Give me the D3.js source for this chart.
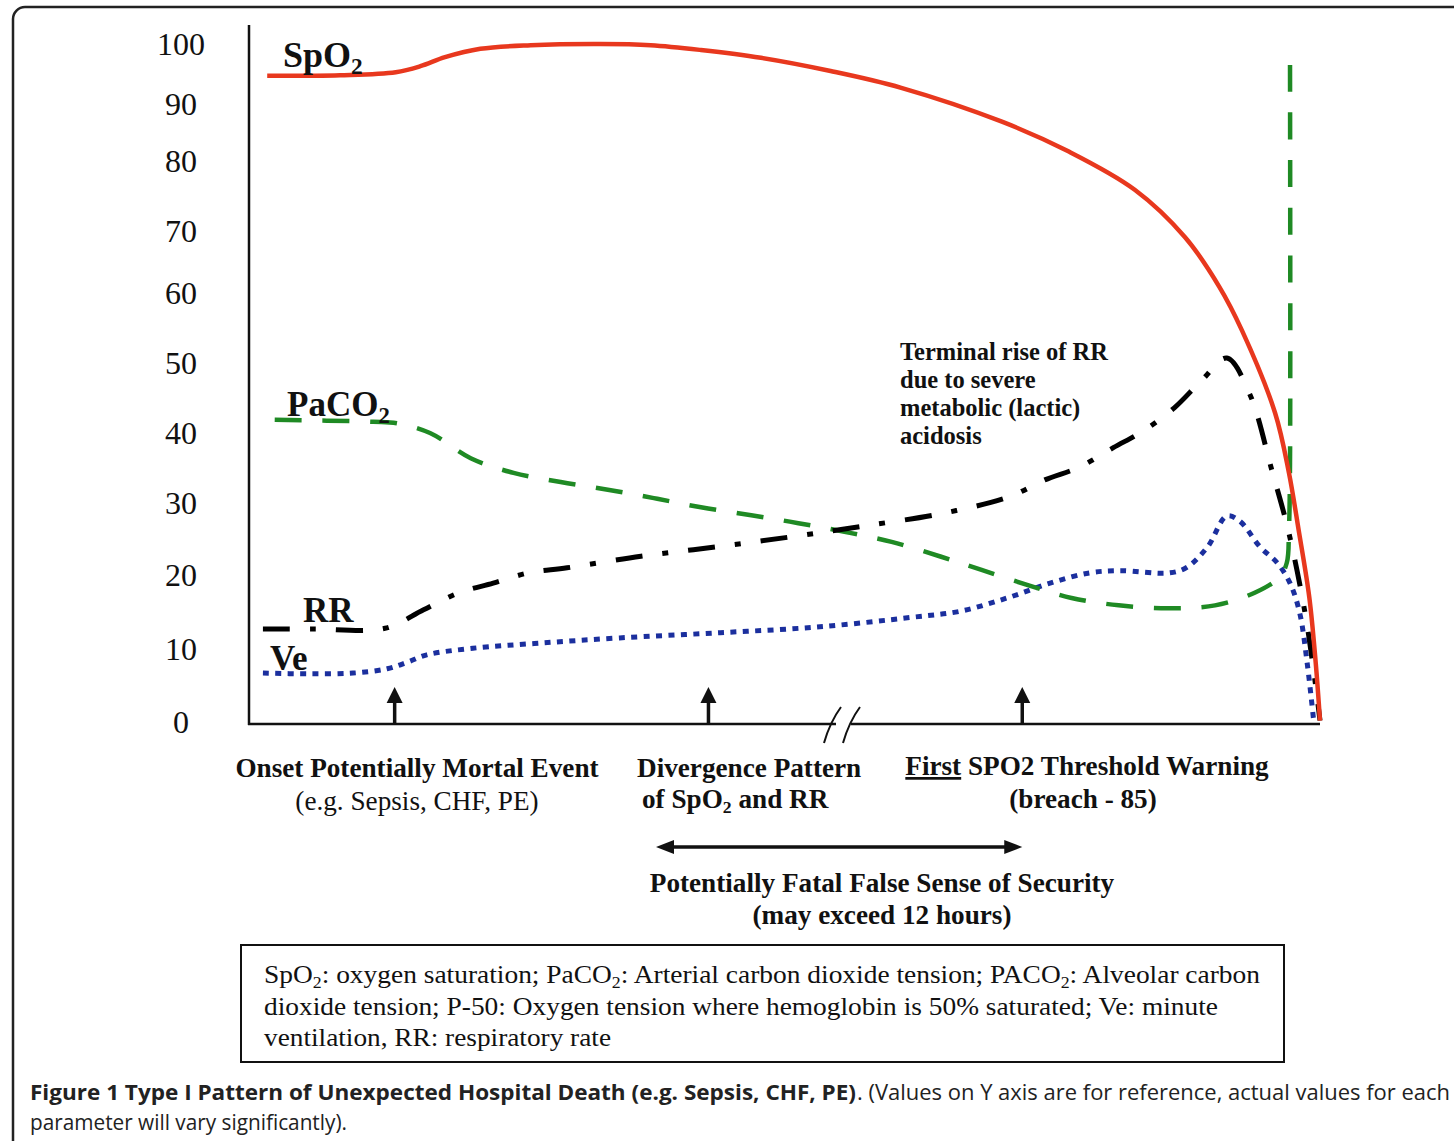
<!DOCTYPE html>
<html><head><meta charset="utf-8">
<script src="https://cdn.jsdelivr.net/npm/d3@7"></script>
<style>html,body{margin:0;padding:0;background:#fff;overflow:hidden}</style>
</head><body>
<svg id="c" width="1454" height="1141"></svg>
<script>
// ---------- data ----------
const yTicks = [0, 10, 20, 30, 40, 50, 60, 70, 80, 90, 100];

const spo2T = [1.7, 8.5, 13.7, 16.0, 18.3, 21.6, 26.3, 32.8, 37.5, 42.2, 47.8, 54.3, 60.9, 70.3, 76.5, 82.7, 87.4, 90.6, 92.7, 95.8, 97.1, 98.0, 99.0, 99.6, 100];
const spo2V = [94.7, 94.8, 95.3, 96.3, 97.8, 99.2, 99.8, 100, 99.8, 99.0, 97.7, 95.5, 92.7, 86.9, 81.7, 75.9, 69.0, 61.0, 54.7, 42.9, 34.3, 26.3, 17.0, 8.1, 0.2];

const paco2T = [2.4, 11.6, 13.8, 16.9, 20.7, 24.7, 29.1, 33.5, 37.8, 42.2, 46.9, 51.3, 55.6, 60.0, 64.7, 68.4, 72.8, 76.8, 81.2, 85.9, 90.2, 93.9, 96.2, 96.9, 97.1, 97.2, 97.2];
const paco2V = [41.9, 41.6, 41.4, 40.0, 36.4, 34.3, 33.0, 31.9, 30.7, 29.4, 28.3, 27.2, 26.0, 24.6, 22.5, 20.7, 18.6, 16.9, 15.9, 15.5, 15.9, 17.6, 19.7, 21.7, 26.3, 35.7, 96.5];

const rrT = [1.3, 6.0, 12.7, 16.3, 19.6, 22.8, 26.1, 29.7, 36.6, 43.6, 50.6, 57.4, 64.9, 71.0, 74.3, 77.5, 80.7, 83.6, 86.4, 89.0, 91.3, 93.4, 95.5, 97.1, 98.6, 99.4, 100];
const rrV = [12.7, 12.7, 12.8, 15.3, 17.6, 18.9, 20.3, 21.0, 22.6, 23.9, 25.3, 26.8, 28.6, 30.9, 33.3, 35.1, 37.9, 40.4, 43.6, 47.6, 50.7, 45.7, 34.7, 25.8, 14.9, 7.1, 0.2];

const veT = [1.3, 5.4, 9.7, 12.9, 14.8, 16.6, 20.9, 27.2, 34.6, 44.0, 53.3, 62.0, 66.4, 70.8, 74.8, 78.5, 81.3, 86.0, 87.6, 89.5, 91.3, 92.5, 94.4, 96.0, 97.2, 98.1, 98.8, 99.4];
const veV = [6.7, 6.6, 6.7, 7.3, 8.2, 9.2, 10.1, 10.8, 11.5, 12.2, 13.0, 14.3, 15.1, 16.9, 18.9, 20.3, 20.6, 20.3, 21.1, 23.9, 28.2, 27.5, 23.9, 21.7, 18.9, 14.9, 8.1, 0.3];

const eventT = [13.6, 42.9, 72.2];          // upward arrows on the time axis
const falseSecurityT = [38.0, 72.2];        // double-headed arrow span

// ---------- setup ----------
const svg = d3.select("#c");
const serif = "'Liberation Serif','Times New Roman',Times,serif";

const x = d3.scaleLinear().domain([0, 100]).range([249, 1320]);
const y = d3.scaleLinear().domain(yTicks).range([722, 649, 575, 503, 433, 363, 293, 231, 161, 104, 44]);

// outer frame
svg.append("rect").attr("x", 13).attr("y", 7).attr("width", 1520).attr("height", 1220)
  .attr("rx", 12).attr("fill", "none").attr("stroke", "#222").attr("stroke-width", 2.5);

// y axis labels via d3 axis
const yAxis = d3.axisLeft(y).tickValues(yTicks).tickSize(0).tickPadding(0);
const gy = svg.append("g").attr("transform", "translate(249,0)").call(yAxis);
gy.select(".domain").remove();
gy.selectAll("text").attr("x", -68).attr("text-anchor", "middle")
  .attr("font-family", serif).attr("font-size", 32).attr("fill", "#111");

// axes lines
svg.append("line").attr("x1", 249).attr("x2", 249).attr("y1", 25).attr("y2", 725)
  .attr("stroke", "#111").attr("stroke-width", 2.5);
svg.append("line").attr("x1", 248).attr("x2", 836).attr("y1", 724).attr("y2", 724)
  .attr("stroke", "#111").attr("stroke-width", 2.5);
svg.append("line").attr("x1", 851).attr("x2", x(100)).attr("y1", 724).attr("y2", 724)
  .attr("stroke", "#111").attr("stroke-width", 2.5);
// break marks
svg.append("path").attr("d", "M824,743 Q830,722 841,707 M843,743 Q849,722 860,707")
  .attr("fill", "none").attr("stroke", "#111").attr("stroke-width", 2);

// lines
const line = d3.line().x(d => x(d[0])).y(d => y(d[1])).curve(d3.curveCatmullRom.alpha(0.5));
const zip = (a, b) => a.map((v, i) => [v, b[i]]);

svg.append("path").attr("d", line(zip(veT, veV))).attr("fill", "none")
  .attr("stroke", "#1b2f9e").attr("stroke-width", 5).attr("stroke-dasharray", "6,6.4");
const gPath = svg.append("path").attr("d", line(zip(paco2T, paco2V))).attr("fill", "none")
  .attr("stroke", "#1f8a24").attr("stroke-width", 4.5);
const gLen = gPath.node().getTotalLength();
const nDash = Math.round((gLen - 27) / 47);
const gGap = (gLen - 27) / nDash - 27;
gPath.attr("stroke-dasharray", `27,${gGap.toFixed(3)}`);
svg.append("path").attr("d", line(zip(rrT, rrV))).attr("fill", "none")
  .attr("stroke", "#000").attr("stroke-width", 5).attr("stroke-dasharray", "27,20,6,20");
svg.append("path").attr("d", line(zip(spo2T, spo2V))).attr("fill", "none")
  .attr("stroke", "#e8381e").attr("stroke-width", 4.5);

// rich text helper (subscripts)
function rich(xp, yp, segs, size, weight, anchor, len) {
  const t = svg.append("text").attr("x", xp).attr("y", yp)
    .attr("font-family", serif).attr("font-size", size).attr("font-weight", weight || "normal")
    .attr("fill", "#111").attr("text-anchor", anchor || "start");
  if (len) t.attr("textLength", len).attr("lengthAdjust", "spacingAndGlyphs");
  let down = false;
  segs.forEach(s => {
    const sp = t.append("tspan").text(s.t);
    if (s.sub) { sp.attr("font-size", size * 0.65).attr("dy", size * 0.2); down = true; }
    else if (down) { sp.attr("dy", -size * 0.2); down = false; }
    if (s.u) sp.attr("text-decoration", "underline");
  });
  return t;
}

// series labels
rich(283, 67, [{t: "SpO"}, {t: "2", sub: true}], 36, "bold");
rich(287, 416, [{t: "PaCO"}, {t: "2", sub: true}], 35, "bold");
rich(303, 622, [{t: "RR"}], 35, "bold");
rich(270, 670, [{t: "Ve"}], 35, "bold");

// terminal rise annotation
["Terminal rise of RR", "due to severe", "metabolic (lactic)", "acidosis"].forEach((s, i) =>
  rich(900, 360 + i * 28, [{t: s}], 24.5, "bold"));

// event arrows
const arrowG = svg.append("g");
eventT.forEach(t => {
  const xp = x(t);
  arrowG.append("line").attr("x1", xp).attr("x2", xp).attr("y1", 724).attr("y2", 700)
    .attr("stroke", "#111").attr("stroke-width", 3.5);
  arrowG.append("path").attr("d", `M${xp},687 L${xp - 8},703 L${xp + 8},703 Z`).attr("fill", "#111");
});

// event labels
rich(417, 777, [{t: "Onset Potentially Mortal Event"}], 27.2, "bold", "middle");
rich(417, 810, [{t: "(e.g. Sepsis, CHF, PE)"}], 27.2, "normal", "middle");
rich(637, 777, [{t: "Divergence Pattern"}], 27.2, "bold");
rich(642, 808, [{t: "of SpO"}, {t: "2", sub: true}, {t: " and RR"}], 27.2, "bold");
rich(1087, 775, [{t: "First", u: true}, {t: " SPO2 Threshold Warning"}], 27.2, "bold", "middle");
rich(1083, 808, [{t: "(breach - 85)"}], 27.2, "bold", "middle");

// double arrow
const xa = x(falseSecurityT[0]), xb = x(falseSecurityT[1]);
svg.append("line").attr("x1", xa + 12).attr("x2", xb - 12).attr("y1", 847).attr("y2", 847)
  .attr("stroke", "#111").attr("stroke-width", 3.5);
svg.append("path").attr("d", `M${xa},847 L${xa + 18},840 L${xa + 18},854 Z`).attr("fill", "#111");
svg.append("path").attr("d", `M${xb},847 L${xb - 18},840 L${xb - 18},854 Z`).attr("fill", "#111");

rich(882, 892, [{t: "Potentially Fatal False Sense of Security"}], 27.2, "bold", "middle");
rich(882, 924, [{t: "(may exceed 12 hours)"}], 27.2, "bold", "middle");

// legend box
svg.append("rect").attr("x", 241).attr("y", 945).attr("width", 1043).attr("height", 117)
  .attr("fill", "none").attr("stroke", "#111").attr("stroke-width", 2);
rich(264, 983, [{t: "SpO"}, {t: "2", sub: true}, {t: ": oxygen saturation; PaCO"}, {t: "2", sub: true},
  {t: ": Arterial carbon dioxide tension; PACO"}, {t: "2", sub: true}, {t: ": Alveolar carbon"}], 26, "normal", "start", 996);
rich(264, 1015, [{t: "dioxide tension; P-50: Oxygen tension where hemoglobin is 50% saturated; Ve: minute"}], 26, "normal", "start", 954);
rich(264, 1046, [{t: "ventilation, RR: respiratory rate"}], 26, "normal", "start", 347);

// caption
const sans = "'Open Sans','Liberation Sans',Arial,sans-serif";
svg.append("text").attr("x", 30).attr("y", 1100).attr("font-family", sans).attr("font-size", 22)
  .attr("font-weight", "bold").attr("fill", "#222")
  .attr("textLength", 826).attr("lengthAdjust", "spacingAndGlyphs")
  .text("Figure 1 Type I Pattern of Unexpected Hospital Death (e.g. Sepsis, CHF, PE)");
svg.append("text").attr("x", 857).attr("y", 1100).attr("font-family", sans).attr("font-size", 22)
  .attr("fill", "#222").attr("textLength", 593).attr("lengthAdjust", "spacingAndGlyphs")
  .text(". (Values on Y axis are for reference, actual values for each");
svg.append("text").attr("x", 30).attr("y", 1130).attr("font-family", sans).attr("font-size", 22)
  .attr("fill", "#222").attr("textLength", 317).attr("lengthAdjust", "spacingAndGlyphs")
  .text("parameter will vary significantly).");
</script>
</body></html>
